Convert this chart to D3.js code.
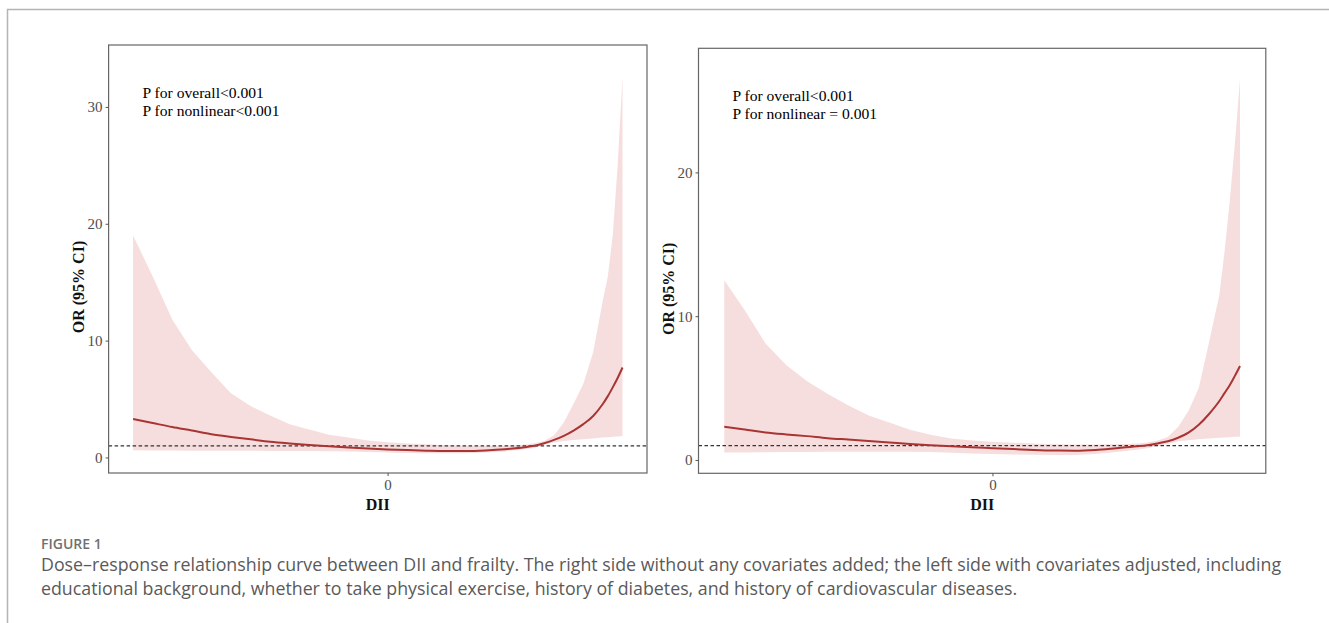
<!DOCTYPE html>
<html>
<head>
<meta charset="utf-8">
<script src="https://cdn.jsdelivr.net/npm/d3@7"></script>
<style>
  body { margin: 0; background: #fff; }
  svg text { font-family: "Liberation Serif", "Times New Roman", serif; }
  .caption { font-family: "Open Sans", "Noto Sans", sans-serif; }
</style>
</head>
<body>
<div id="chart"></div>
<script>
// DII grid (shared by both panels)
const dii = [-5.2, -4.8, -4.4, -4.0, -3.6, -3.2, -2.8, -2.4, -2.0, -1.6, -1.2, -0.8, -0.4, 0,
             0.4, 0.8, 1.2, 1.6, 2.0, 2.4, 2.8, 3.0, 3.2, 3.4, 3.6, 3.8, 4.0, 4.2, 4.4, 4.5, 4.6, 4.7, 4.8];

// left panel: covariates adjusted
const orAdj  = [3.3, 2.95, 2.6, 2.3, 1.98, 1.75, 1.55, 1.35, 1.2, 1.07, 0.96, 0.86, 0.77, 0.69,
                0.63, 0.58, 0.55, 0.55, 0.6, 0.7, 0.87, 1.0, 1.22, 1.5, 1.85, 2.3, 2.85, 3.55, 4.6, 5.25, 6.0, 6.8, 7.7];
const lowAdj = [0.62, 0.6, 0.6, 0.58, 0.58, 0.57, 0.57, 0.56, 0.56, 0.55, 0.53, 0.5, 0.46, 0.42,
                0.38, 0.35, 0.35, 0.37, 0.42, 0.52, 0.7, 0.82, 1.1, 1.28, 1.4, 1.5, 1.56, 1.62, 1.7, 1.73, 1.77, 1.8, 1.84];
const upAdj  = [19.0, 15.5, 11.8, 9.2, 7.3, 5.5, 4.4, 3.6, 2.85, 2.4, 1.95, 1.7, 1.45, 1.3,
                1.2, 1.12, 1.05, 1.0, 0.98, 1.0, 1.1, 1.22, 1.4, 1.9, 3.0, 4.6, 6.3, 9.0, 13.5, 15.5, 19.0, 25.0, 32.6];

// right panel: no covariates
const orCrude  = [2.32, 2.12, 1.92, 1.78, 1.66, 1.52, 1.42, 1.32, 1.22, 1.12, 1.03, 0.95, 0.88, 0.82,
                  0.76, 0.7, 0.66, 0.65, 0.7, 0.82, 0.95, 1.03, 1.15, 1.3, 1.55, 1.9, 2.45, 3.2, 4.1, 4.65, 5.2, 5.85, 6.54];
const lowCrude = [0.53, 0.53, 0.54, 0.55, 0.56, 0.57, 0.57, 0.58, 0.58, 0.57, 0.55, 0.5, 0.45, 0.42,
                  0.38, 0.36, 0.35, 0.35, 0.42, 0.55, 0.72, 0.82, 0.98, 1.12, 1.3, 1.38, 1.44, 1.5, 1.55, 1.57, 1.59, 1.61, 1.62];
const upCrude  = [12.5, 10.4, 8.1, 6.6, 5.5, 4.6, 3.8, 3.1, 2.6, 2.1, 1.75, 1.5, 1.35, 1.27,
                  1.2, 1.14, 1.1, 1.08, 1.08, 1.1, 1.15, 1.22, 1.35, 1.6, 2.3, 3.4, 5.0, 8.2, 11.5, 14.5, 18.0, 22.0, 26.5];

const xTicks = [0];
const yTicksAdj = [0, 10, 20, 30];
const yTicksCrude = [0, 10, 20];
const pTextAdj = ["P for overall<0.001", "P for nonlinear<0.001"];
const pTextCrude = ["P for overall<0.001", "P for nonlinear = 0.001"];
const captionLines = [
  "Dose\u2013response relationship curve between DII and frailty. The right side without any covariates added; the left side with covariates adjusted, including",
  "educational background, whether to take physical exercise, history of diabetes, and history of cardiovascular diseases."
];

const W = 1329, H = 623;
const svg = d3.select("#chart").append("svg")
    .attr("width", W)
    .attr("height", H);

// outer page frame
svg.append("path")
    .attr("d", `M7.5,${H} L7.5,9.5 L${W},9.5`)
    .attr("fill", "none")
    .attr("stroke", "#b4b4b4")
    .attr("stroke-width", 1.5);

function drawPanel(p) {
    const x = d3.scaleLinear().domain([-5.7, 5.3]).range([p.left, p.right]);
    const y = d3.scaleLinear().domain(p.yDomain).range([p.bottom, p.top]);
    const g = svg.append("g");

    const rows = dii.map((d, i) => ({ x: d, or: p.or[i], lo: p.lo[i], hi: p.hi[i] }));

    g.append("path")
        .datum(rows)
        .attr("fill", "#f7dede")
        .attr("d", d3.area().x(d => x(d.x)).y0(d => y(d.lo)).y1(d => y(d.hi)));

    g.append("line")
        .attr("x1", p.left).attr("x2", p.right)
        .attr("y1", y(1)).attr("y2", y(1))
        .attr("stroke", "#333")
        .attr("stroke-width", 1.3)
        .attr("stroke-dasharray", "3.5,2.5");

    g.append("path")
        .datum(rows)
        .attr("fill", "none")
        .attr("stroke", "#a83434")
        .attr("stroke-width", 2)
        .attr("d", d3.line().curve(d3.curveMonotoneX).x(d => x(d.x)).y(d => y(d.or)));

    // panel border
    g.append("rect")
        .attr("x", p.left).attr("y", p.top)
        .attr("width", p.right - p.left).attr("height", p.bottom - p.top)
        .attr("fill", "none")
        .attr("stroke", "#666")
        .attr("stroke-width", 1.2);

    const yAxis = g.append("g")
        .attr("transform", `translate(${p.left},0)`)
        .call(d3.axisLeft(y).tickValues(p.yTicks).tickSize(3).tickPadding(3));
    const xAxis = g.append("g")
        .attr("transform", `translate(0,${p.bottom})`)
        .call(d3.axisBottom(x).tickValues(xTicks).tickFormat(d3.format("d")).tickSize(3).tickPadding(3));
    [yAxis, xAxis].forEach(a => {
        a.select(".domain").remove();
        a.selectAll("line").attr("stroke", "#555");
        a.selectAll("text")
            .attr("fill", "#4d4d4d")
            .style("font-family", "'Liberation Serif', serif")
            .style("font-size", "15px");
    });

    g.append("text")
        .attr("transform", `translate(${p.left - 25},${(p.top + p.bottom) / 2 + 28}) rotate(-90)`)
        .attr("text-anchor", "middle")
        .style("font-size", "16px")
        .style("font-weight", "bold")
        .attr("fill", "#111")
        .text("OR (95% CI)");

    g.append("text")
        .attr("x", (p.left + p.right) / 2)
        .attr("y", p.bottom + 37)
        .attr("text-anchor", "middle")
        .style("font-size", "16px")
        .style("font-weight", "bold")
        .attr("fill", "#111")
        .text("DII");

    g.selectAll(".ptext")
        .data(p.label)
        .enter().append("text")
        .attr("x", p.left + 34)
        .attr("y", (d, i) => p.top + 53 + i * 18)
        .style("font-size", "15.6px")
        .attr("fill", "#000")
        .text(d => d);
}

drawPanel({
    left: 108.6, right: 647, top: 45, bottom: 473,
    yDomain: [-1.33, 35.3], yTicks: yTicksAdj,
    or: orAdj, lo: lowAdj, hi: upAdj, label: pTextAdj
});
drawPanel({
    left: 698.5, right: 1265.8, top: 48.3, bottom: 473.3,
    yDomain: [-0.925, 28.63], yTicks: yTicksCrude,
    or: orCrude, lo: lowCrude, hi: upCrude, label: pTextCrude
});

svg.append("text")
    .attr("class", "caption")
    .attr("x", 41).attr("y", 549)
    .style("font-size", "14px")
    .style("font-weight", "600")
    .attr("fill", "#707070")
    .text("FIGURE 1");

svg.selectAll(".capline")
    .data(captionLines)
    .enter().append("text")
    .attr("class", "caption")
    .attr("x", 41)
    .attr("y", (d, i) => 571 + i * 24)
    .style("font-size", "17.8px")
    .attr("fill", "#5a5a5a")
    .text(d => d);
</script>
</body>
</html>
